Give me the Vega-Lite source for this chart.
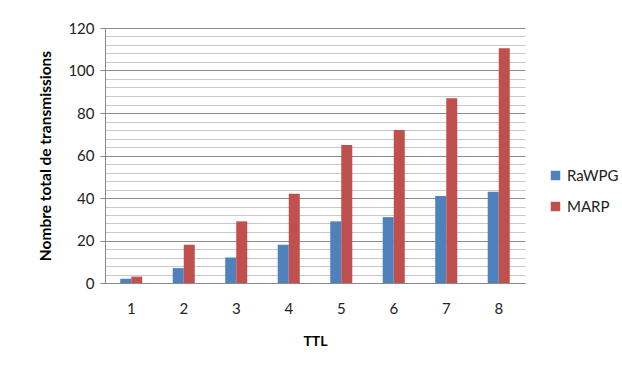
{
  "$schema": "https://vega.github.io/schema/vega-lite/v6.json",
  "autosize": "none",
  "width": 420,
  "height": 255,
  "padding": {"left": 105, "top": 28, "right": 97, "bottom": 86},
  "background": "white",
  "config": {"view": {"stroke": null}, "font": "Lato"},
  "data": {"values": [
    {"TTL": 1, "serie": "RaWPG", "v": 2}, {"TTL": 1, "serie": "MARP", "v": 3},
    {"TTL": 2, "serie": "RaWPG", "v": 7}, {"TTL": 2, "serie": "MARP", "v": 18},
    {"TTL": 3, "serie": "RaWPG", "v": 12}, {"TTL": 3, "serie": "MARP", "v": 29},
    {"TTL": 4, "serie": "RaWPG", "v": 18}, {"TTL": 4, "serie": "MARP", "v": 42},
    {"TTL": 5, "serie": "RaWPG", "v": 29}, {"TTL": 5, "serie": "MARP", "v": 65},
    {"TTL": 6, "serie": "RaWPG", "v": 31}, {"TTL": 6, "serie": "MARP", "v": 72},
    {"TTL": 7, "serie": "RaWPG", "v": 41}, {"TTL": 7, "serie": "MARP", "v": 87},
    {"TTL": 8, "serie": "RaWPG", "v": 43}, {"TTL": 8, "serie": "MARP", "v": 110.5}
  ]},
  "mark": {"type": "bar"},
  "encoding": {
    "x": {"field": "TTL", "type": "ordinal", "title": "TTL",
      "scale": {"paddingInner": 0.58, "paddingOuter": 0.29},
      "axis": {"labelAngle": 0, "ticks": false, "labelPadding": 18, "labelFontSize": 15, "labelColor": "#222",
        "domainColor": "#888", "titleFontSize": 14, "titleFontWeight": "bold", "titlePadding": 18, "titleColor": "#000"}},
    "xOffset": {"field": "serie", "sort": ["RaWPG", "MARP"]},
    "y": {"field": "v", "type": "quantitative", "title": "Nombre total  de transmissions",
      "scale": {"domain": [0, 120], "nice": false},
      "axis": {"values": [0,4,8,12,16,20,24,28,32,36,40,44,48,52,56,60,64,68,72,76,80,84,88,92,96,100,104,108,112,116,120],
        "labelExpr": "datum.value % 20 === 0 ? datum.label : ''",
        "gridColor": {"condition": {"test": "datum.value % 20 === 0", "value": "#8c8c8c"}, "value": "#c8c8c8"},
        "tickOpacity": {"condition": {"test": "datum.value % 20 === 0", "value": 1}, "value": 0},
        "tickColor": "#888", "tickSize": 5, "labelPadding": 6, "labelFontSize": 15, "labelColor": "#222",
        "domainColor": "#888", "titleFontSize": 15.5, "titleFontWeight": "bold", "titleColor": "#000", "titlePadding": 14}},
    "color": {"field": "serie", "type": "nominal", "sort": ["RaWPG", "MARP"],
      "scale": {"domain": ["RaWPG", "MARP"], "range": ["#4F81BD", "#C0504D"]},
      "legend": {"title": null, "orient": "none", "legendX": 443, "legendY": 140, "symbolType": "square", "symbolSize": 90,
        "labelFontSize": 15, "labelColor": "#222", "rowPadding": 15, "symbolStrokeWidth": 0}}
  }
}
